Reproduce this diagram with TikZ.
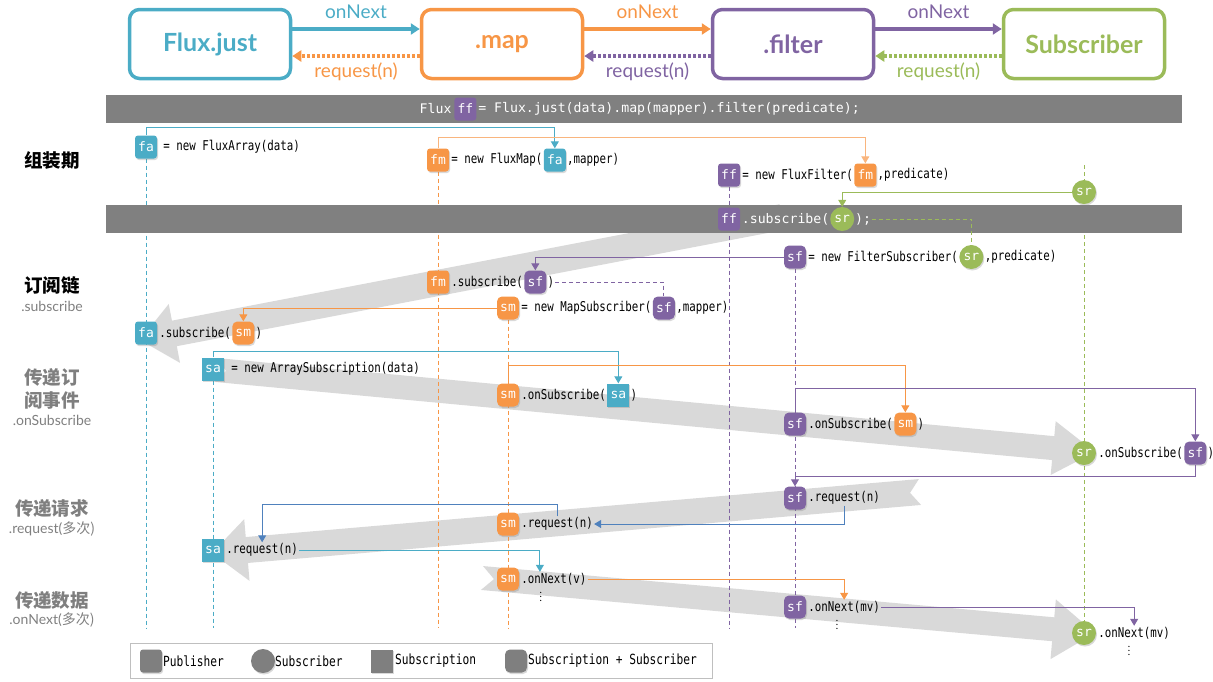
\documentclass[tikz,border=0pt]{standalone}
\usepackage{fontspec}
\setmainfont{Lato}
\newfontfamily\cjkfont{Noto Sans CJK SC}
\newfontfamily\barfont{DejaVu Sans Mono}
\newfontfamily\codefont[FakeStretch=0.8]{DejaVu Sans Mono}
\usetikzlibrary{positioning,calc,arrows.meta,shadows}
\pgfdeclarelayer{bands}
\pgfdeclarelayer{lines}
\pgfdeclarelayer{bars}
\pgfsetlayers{bands,lines,bars,main}

\definecolor{cfa}{HTML}{4BACC6}
\definecolor{cfm}{HTML}{F79646}
\definecolor{cff}{HTML}{8064A2}
\definecolor{csr}{HTML}{9BBB59}
\definecolor{creq}{HTML}{4F81BD}
\definecolor{cbar}{HTML}{808080}
\definecolor{cband}{HTML}{D9D9D9}
\definecolor{ctxt}{HTML}{7F7F7F}

% wide grey arrow: tail, tip, half width, head length, head half width, notch
\newcommand{\fatarrow}[6]{%
  \coordinate (fb) at ($(#2)!#4!(#1)$);
  \fill[cband] ($(#1)!#3!90:(#2)$) -- ($(fb)!#3!90:(#2)$) -- ($(fb)!#5!90:(#2)$) -- (#2)
    -- ($(fb)!#5!-90:(#2)$) -- ($(fb)!#3!-90:(#2)$) -- ($(#1)!#3!-90:(#2)$) -- ($(#1)!#6!(#2)$) -- cycle;
}

\tikzset{
  badge/.style={fill=#1, text=white, font=\barfont\fontsize{13}{13}\selectfont,
    minimum width=22pt, minimum height=23pt, inner sep=0pt,
    drop shadow={opacity=0.3, shadow xshift=1pt, shadow yshift=-1.5pt}},
  pub/.style={badge=#1, rounded corners=3pt},
  subsub/.style={badge=#1, rounded corners=5pt},
  subn/.style={badge=#1},
  subr/.style={badge=#1, circle, minimum size=24pt},
  code/.style={font=\codefont\fontsize{13.5}{15}\selectfont, inner sep=1pt},
  bartxt/.style={font=\barfont\fontsize{13.2}{14}\selectfont, text=white, inner sep=0.5pt},
  bar/.style={fill=cbar, minimum width=1076pt, minimum height=28pt, inner sep=0pt},
  titlebox/.style={draw=#1, text=#1, line width=3.5pt, rounded corners=10pt,
    minimum width=161pt, minimum height=69pt, font=\bfseries\fontsize{25}{25}\selectfont},
  nextarr/.style={draw=#1, line width=3.5pt, -{Triangle[length=9pt,width=11pt]}},
  reqarr/.style={draw=#1, line width=4pt, dash pattern=on 3pt off 2pt, -{Triangle[length=9pt,width=11pt]}},
  flowlbl/.style={text=#1, font=\fontsize{19}{20}\selectfont},
  life/.style={draw=#1, dash pattern=on 4pt off 3pt, line width=0.8pt},
  link/.style={draw=#1, line width=1pt, -{Triangle[length=7pt,width=8pt]}},
  weak/.style={draw=#1, line width=1pt, dash pattern=on 4pt off 3pt},
  stage/.style={font=\cjkfont\bfseries\fontsize{18.5}{23}\selectfont, align=center},
  stagesub/.style={font=\fontsize{14}{15}\selectfont, text=ctxt},
  dots/.style={font=\fontsize{10}{10}\selectfont, anchor=north, inner sep=0pt},
  legtxt/.style={font=\codefont\fontsize{14}{15}\selectfont, anchor=west, inner sep=0pt},
}

\begin{document}
\begin{tikzpicture}[x=1pt, y=-1pt]
\useasboundingbox (0,0) rectangle (1213,681);

% operators
\node[titlebox=cfa] (just) at (210,44) {Flux.just};
\node[titlebox=cfm] (map) at (502,44) {.map};
\node[titlebox=cff] (filter) at (793,44) {.filter};
\node[titlebox=csr] (subscriber) at (1084,44) {Subscriber};
\draw[nextarr=cfa] ([yshift=15pt]just.east) -- ([yshift=15pt]map.west);
\draw[nextarr=cfm] ([yshift=15pt]map.east) -- ([yshift=15pt]filter.west);
\draw[nextarr=cff] ([yshift=15pt]filter.east) -- ([yshift=15pt]subscriber.west);
\draw[reqarr=cfm] ([yshift=-12pt]map.west) -- ([yshift=-12pt]just.east);
\draw[reqarr=cff] ([yshift=-12pt]filter.west) -- ([yshift=-12pt]map.east);
\draw[reqarr=csr] ([yshift=-12pt]subscriber.west) -- ([yshift=-12pt]filter.east);
\node[flowlbl=cfa] at ($(just.east)!0.5!(map.west)+(0,-32)$) {onNext};
\node[flowlbl=cfm] at ($(map.east)!0.5!(filter.west)+(0,-32)$) {onNext};
\node[flowlbl=cff] at ($(filter.east)!0.5!(subscriber.west)+(0,-32)$) {onNext};
\node[flowlbl=cfm] at ($(just.east)!0.5!(map.west)+(0,28)$) {request(n)};
\node[flowlbl=cff] at ($(map.east)!0.5!(filter.west)+(0,28)$) {request(n)};
\node[flowlbl=csr] at ($(filter.east)!0.5!(subscriber.west)+(0,28)$) {request(n)};

% stages
\node[stage] (st1) at (52,160) {组装期};
\node[stage] (st2) at (52,285) {订阅链};
\node[stagesub] at (52,306) {.subscribe};
\node[stage, text=ctxt] (st3) at (52,389) {传递订\\阅事件};
\node[stagesub] at (52,420) {.onSubscribe};
\node[stage, text=ctxt] (st4) at (52,508) {传递请求};
\node[stagesub] at (52,529) {.request(\cjkfont 多次)};
\node[stage, text=ctxt] (st5) at (52,600) {传递数据};
\node[stagesub] at (52,620) {.onNext(\cjkfont 多次)};

% code bars
\begin{pgfonlayer}{bars}
\node[bar] (bar1) at (644,109) {};
\node[bar] (bar2) at (644,219) {};
\end{pgfonlayer}
\node[bartxt, anchor=west] (b1) at (419,109) {Flux};
\node[pub=cff, right=2pt of b1] (ff0) {ff};
\node[bartxt, right=1pt of ff0] (b1b) {= Flux.just(data).map(mapper).filter(predicate);};

% assembly
\node[pub=cfa] (fa1) at (146,147) {fa};
\node[code, right=5pt of fa1] (t1) {= new FluxArray(data)};
\node[pub=cfm] (fm1) at (438,160) {fm};
\node[code, right=1pt of fm1] (t2) {= new FluxMap(};
\node[pub=cfa, right=0pt of t2] (fa2) {fa};
\node[code, right=0pt of fa2] (t2b) {,mapper)};
\node[pub=cff] (ff1) at (729,175) {ff};
\node[code, right=1pt of ff1] (t3) {= new FluxFilter(};
\node[pub=cfm, right=0pt of t3] (fm2) {fm};
\node[code, right=0pt of fm2] (t3b) {,predicate)};
\node[subr=csr] (sr1) at (1084,192) {sr};
\node[pub=cff] (ff2) at (729,219) {ff};
\node[bartxt, right=1pt of ff2] (bt2) {.subscribe(};
\node[subr=csr, right=0pt of bt2] (sr2) {sr};
\node[bartxt, right=0pt of sr2] (bt2b) {);};

% subscribe chain
\node[subsub=cff] (sf1) at (795,257) {sf};
\node[code, right=1pt of sf1] (t4) {= new FilterSubscriber(};
\node[subr=csr, right=0pt of t4] (sr3) {sr};
\node[code, right=0pt of sr3] (t4b) {,predicate)};
\node[pub=cfm] (fm3) at (438,282) {fm};
\node[code, right=1pt of fm3] (t5) {.subscribe(};
\node[subsub=cff, right=0pt of t5] (sf2) {sf};
\node[code, right=0pt of sf2] (t5b) {)};
\node[subsub=cfm] (sm1) at (508,308) {sm};
\node[code, right=1pt of sm1] (t6) {= new MapSubscriber(};
\node[subsub=cff, right=0pt of t6] (sf3) {sf};
\node[code, right=0pt of sf3] (t6b) {,mapper)};
\node[pub=cfa] (fa3) at (146,333) {fa};
\node[code, right=1pt of fa3] (t7) {.subscribe(};
\node[subsub=cfm, right=0pt of t7] (sm2) {sm};
\node[code, right=0pt of sm2] (t7b) {)};

% onSubscribe
\node[subn=cfa] (sa1) at (213,369) {sa};
\node[code, right=6pt of sa1] (t8) {= new ArraySubscription(data)};
\node[subsub=cfm] (sm3) at (508,395) {sm};
\node[code, right=1pt of sm3] (t9) {.onSubscribe(};
\node[subn=cfa, right=0pt of t9] (sa2) {sa};
\node[code, right=0pt of sa2] (t9b) {)};
\node[subsub=cff] (sf4) at (795,424) {sf};
\node[code, right=1pt of sf4] (t10) {.onSubscribe(};
\node[subsub=cfm, right=0pt of t10] (sm4) {sm};
\node[code, right=0pt of sm4] (t10b) {)};
\node[subr=csr] (sr4) at (1084,453) {sr};
\node[code, right=1pt of sr4] (t11) {.onSubscribe(};
\node[subsub=cff, right=0pt of t11] (sf5) {sf};
\node[code, right=0pt of sf5] (t11b) {)};

% request
\node[subsub=cff] (sf6) at (795,498) {sf};
\node[code, right=1pt of sf6] (t12) {.request(n)};
\node[subsub=cfm] (sm5) at (508,524) {sm};
\node[code, right=1pt of sm5] (t13) {.request(n)};
\node[subn=cfa] (sa3) at (213,550) {sa};
\node[code, right=1pt of sa3] (t14) {.request(n)};

% onNext
\node[subsub=cfm] (sm6) at (508,579) {sm};
\node[code, right=1pt of sm6] (t15) {.onNext(v)};
\node[dots] at ($(t15.south)+(-13,0)$) {$\vdots$};
\node[subsub=cff] (sf7) at (795,607) {sf};
\node[code, right=1pt of sf7] (t16) {.onNext(mv)};
\node[dots] at ($(t16.south)+(-7,0)$) {$\vdots$};
\node[subr=csr] (sr5) at (1084,633) {sr};
\node[code, right=1pt of sr5] (t17) {.onNext(mv)};
\node[dots] at ($(t17.south)+(-5,0)$) {$\vdots$};

% lifelines
\coordinate (bot) at (0,628);
\begin{pgfonlayer}{lines}
\draw[life=cfa] (fa1) -- (fa1 |- bot);
\draw[life=cfm] (fm1) -- (fm1 |- bot);
\draw[life=cff] (ff1) -- (ff1 |- bot);
\draw[life=csr] ([yshift=27pt]sr1.center) -- (sr1 |- bot);
\draw[life=cff] (sf1) -- (sf1 |- bot);
\draw[life=cfm] (sm1) -- (sm1 |- bot);
\draw[life=cfa] (sa1) -- (sa1 |- bot);
\end{pgfonlayer}

% wide arrows
\coordinate (ta) at (782,217); \coordinate (qa) at (140,340);
\coordinate (tb) at (216,370); \coordinate (qb) at (1095,452);
\coordinate (tc) at (920,492); \coordinate (qc) at (212,553);
\coordinate (td) at (482,578); \coordinate (qd) at (1095,633);
\begin{pgfonlayer}{bands}
\fatarrow{ta}{qa}{13pt}{35pt}{30pt}{0pt}
\fatarrow{tb}{qb}{12pt}{42pt}{27pt}{10pt}
\fatarrow{tc}{qc}{13pt}{35pt}{31pt}{10pt}
\fatarrow{td}{qd}{12pt}{42pt}{30pt}{12pt}
\end{pgfonlayer}

% links
\draw[link=cfa] (fa1.north) -- ++(0,-8) -| (fa2.north);
\draw[link=cfm!70] (fm1.north) -- ++(0,-11) -| (fm2.north);
\draw[link=csr] (sr1.west) -| (sr2.north);
\draw[weak=csr] (bt2b.east) -| (sr3.north);
\draw[link=cff] (sf1.west) -| (sf2.north);
\draw[weak=cff] (t5b.east) -| (sf3.north);
\draw[link=cfm] (sm1.west) -| (sm2.north);
\draw[link=cfa] (sa1.north) -- ++(0,-6) -| (sa2.north);
\draw[link=cfm] (sm3.north) -- ++(0,-18) -| (sm4.north);
\draw[link=cff] (sf4.north) -- ++(0,-24) -| (sf5.north);
\draw[link=cff] (sf5.south) -- ++(0,12) -| (sf6.north);
\draw[link=creq] (t12.south) |- (t13.east);
\draw[link=creq] (t13.north) -- ++(0,-12) -| (t14.north);
\draw[link=cfa] (t14.east) -| ([xshift=-14pt]t15.north);
\draw[link=cfm] (t15.east) -| (t16.north);
\draw[link=cff] (t16.east) -| (t17.north);

% legend
\node[draw=black!25, line width=1pt, minimum width=582pt, minimum height=35pt] (legend) at (421,660.5) {};
\node[pub=ctxt] (lg1) at (151,661) {};
\node[legtxt] at (163,661) {Publisher};
\node[subr=ctxt] (lg2) at (263,661) {};
\node[legtxt] at (275,661) {Subscriber};
\node[subn=ctxt] (lg3) at (382,661) {};
\node[legtxt] at (395,661) {Subscription};
\node[subsub=ctxt] (lg4) at (516,661) {};
\node[legtxt] at (528,661) {Subscription + Subscriber};
\end{tikzpicture}
\end{document}
